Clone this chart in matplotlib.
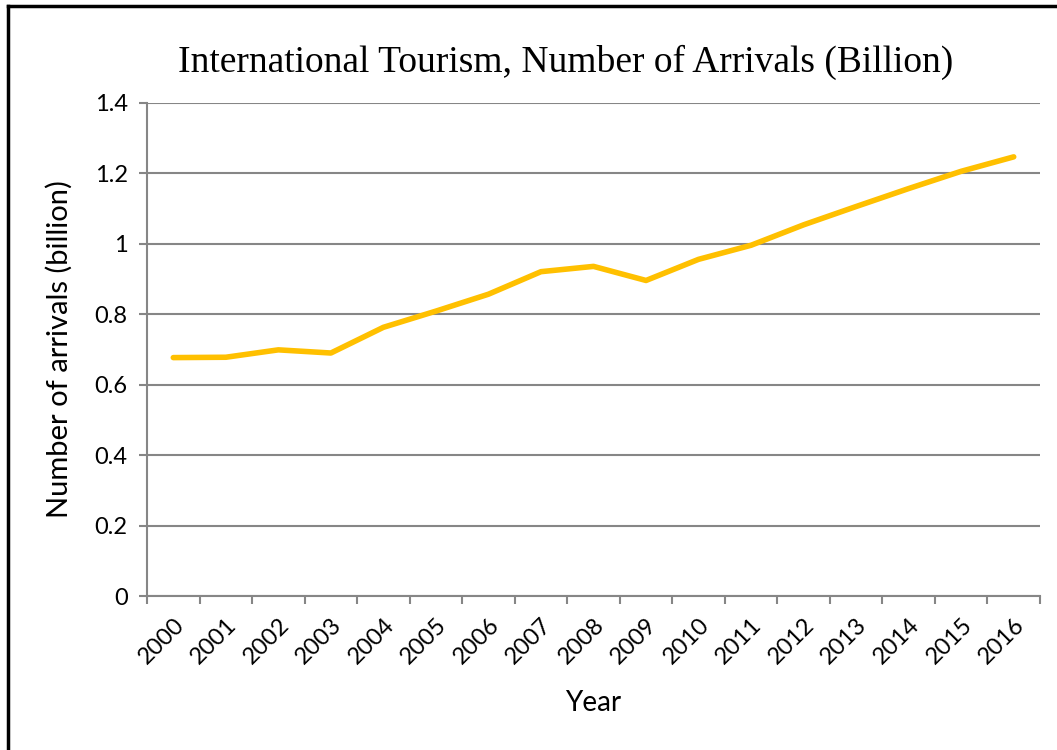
import numpy as np
import matplotlib.pyplot as plt
from matplotlib.lines import Line2D

# arrivals per year, billions
years = ["2000", "2001", "2002", "2003", "2004", "2005", "2006", "2007", "2008",
         "2009", "2010", "2011", "2012", "2013", "2014", "2015", "2016"]
arrivals = [0.677, 0.678, 0.699, 0.690, 0.763, 0.809, 0.857, 0.921, 0.936,
            0.896, 0.956, 0.996, 1.054, 1.106, 1.157, 1.206, 1.247]
y_ticks = [0, 0.2, 0.4, 0.6, 0.8, 1.0, 1.2, 1.4]
y_tick_labels = ["0", "0.2", "0.4", "0.6", "0.8", "1", "1.2", "1.4"]

grid_col = "#868686"

fig = plt.figure(figsize=(10.57, 7.5), dpi=100)
ax = fig.add_axes([0.1391, 0.2053, 0.8448, 0.6574])

x = np.arange(len(years))
ax.plot(x, arrivals, color="#FFC000", lw=4, solid_capstyle="round", zorder=3)

ax.set_xlim(-0.5, len(years) - 0.5)
ax.set_ylim(0, 1.4)

# horizontal gridlines
ax.set_yticks(y_ticks)
ax.set_yticklabels(y_tick_labels, fontsize=17, family="Lato")
ax.yaxis.grid(True, color=grid_col, lw=1.5)
ax.set_axisbelow(True)

# category labels at centers, tick marks on the boundaries
ax.set_xticks(x)
ax.set_xticklabels(years, fontsize=17, family="Lato", rotation=45,
                   ha="right", rotation_mode="anchor")
ax.set_xticks(np.arange(len(years) + 1) - 0.5, minor=True)
ax.tick_params(axis="x", which="major", length=0, pad=13)
ax.tick_params(axis="x", which="minor", length=6, width=1.5, color=grid_col)
ax.tick_params(axis="y", length=6, width=1.5, color=grid_col, pad=8)

for side in ["top", "right"]:
    ax.spines[side].set_visible(False)
for side in ["left", "bottom"]:
    ax.spines[side].set_color(grid_col)
    ax.spines[side].set_linewidth(1.5)

ax.set_xlabel("Year", fontsize=20, family="Lato", labelpad=16)
ax.set_ylabel("Number of arrivals (billion)", fontsize=21, family="Lato", labelpad=16)

fig.text(0.535, 0.917, "International Tourism, Number of Arrivals (Billion)",
         fontsize=27, family="Liberation Serif", ha="center", va="center")

# outer frame, top and left edges only
fig.add_artist(Line2D([0.0075, 1.0], [0.9915, 0.9915], color="black", lw=2.5,
                      transform=fig.transFigure))
fig.add_artist(Line2D([0.0075, 0.0075], [0.0, 0.9915], color="black", lw=2.5,
                      transform=fig.transFigure))

fig.savefig("out.png", dpi=100)
